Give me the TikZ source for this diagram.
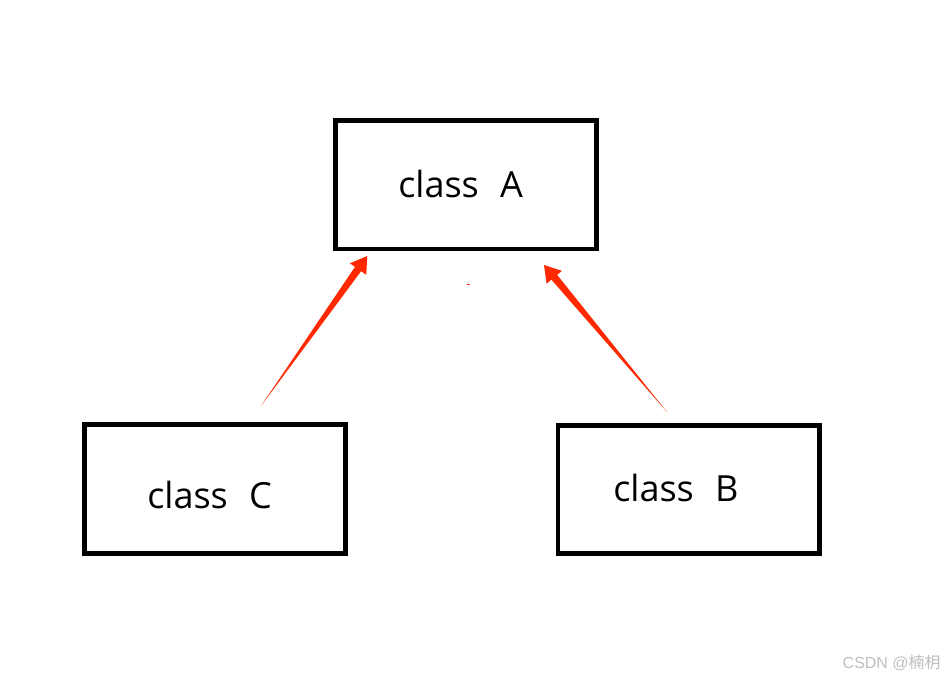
\documentclass[tikz,border=0pt]{standalone}
\usepackage{fontspec}
\usepackage{tikz}
\usetikzlibrary{calc}
\usepackage{xcolor}
\newfontfamily\boxfont{Open Sans}
\newfontfamily\markfont{Liberation Sans}
\newfontfamily\cjk{Noto Sans CJK SC}
\definecolor{arrowred}{RGB}{255,40,0}
\definecolor{markgray}{RGB}{190,190,190}

% tapered filled arrow: #1 tail, #2 tip, #3 name
\newcommand{\taperarrow}[3]{%
  \coordinate (#3-neck) at ($(#2)!12pt!(#1)$);
  \fill [arrowfill] (#1) -- ($(#3-neck)!2.8pt!90:(#2)$) -- ($(#3-neck)!7.5pt!90:(#2)$)
    -- (#2) -- ($(#3-neck)!7.5pt!-90:(#2)$) -- ($(#3-neck)!2.8pt!-90:(#2)$) -- cycle;
}

\begin{document}
\begin{tikzpicture}[x=0.75pt, y=-0.75pt,
    class box/.style={draw, line width=3.6pt, inner sep=0pt, minimum width=196pt, minimum height=96.5pt},
    class text/.style={font=\boxfont\fontsize{27}{31}\selectfont, anchor=base west, inner sep=0pt},
    arrowfill/.style={fill=arrowred}]
  \useasboundingbox (0,0) rectangle (946,681);

  % the three class boxes
  \foreach \n/\x/\y in {A/465.9/184.7, C/215/489.2, B/688.7/489.5}
    \node [class box] (box-\n) at (\x,\y) {};

  % their labels
  \foreach \n/\x/\y in {A/398/198, C/147/508, B/613/501}
    \node [class text] (text-\n) at (\x,\y) {class\hspace{16pt}\n};

  % arrow ends
  \coordinate (tail-C) at (261,406);
  \coordinate (tip-C) at (367.3,256);
  \coordinate (tail-B) at (667,412);
  \coordinate (tip-B) at (544,265);

  % the red arrows
  \foreach \n in {C,B}
    {\taperarrow{tail-\n}{tip-\n}{arrow-\n}}

  \draw [arrowred, line width=0.75pt] (466.5,284) -- (470,284);

  \node [anchor=base east, inner sep=0pt, text=markgray, font=\markfont\fontsize{12}{14}\selectfont]
    (mark) at (941,668) {CSDN @{\cjk 楠枂}};
\end{tikzpicture}
\end{document}
